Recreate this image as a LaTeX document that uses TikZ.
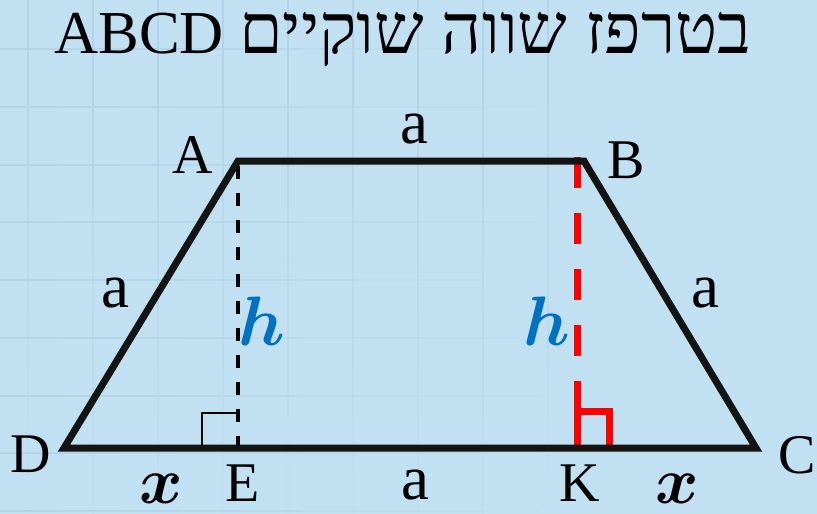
\documentclass[tikz,border=0pt]{standalone}
\usepackage{fontspec}
\usepackage{bm}
\usetikzlibrary{calc}
\setmainfont{Liberation Serif}
\newfontfamily\hebfont[Script=Hebrew]{Liberation Serif}
\TeXXeTstate=1
\definecolor{bgblue}{RGB}{193,224,242}
\definecolor{gridblue}{RGB}{178,211,232}
\definecolor{hblue}{RGB}{0,112,192}
\definecolor{mred}{RGB}{255,0,0}
\begin{document}
\begin{tikzpicture}[x=1pt, y=-1pt,
  every node/.style={inner sep=0pt},
  side/.style={line width=7pt, line join=miter, draw=black!92},
  vert/.style={font=\fontsize{56}{60}\selectfont},
  len/.style={font=\fontsize{63}{68}\selectfont},
  hgt/.style={text=hblue, scale=7},
  seg/.style={scale=6.6},
  gridline/.style={draw=gridblue, line width=1.6pt}]
  % background and faded grid
  \fill[bgblue] (0,0) rectangle (817,514);
  \useasboundingbox (0,0) rectangle (817,514);
  \foreach \i in {0,...,9} {
    \foreach \gx in {28,93,158,223,288,353,418,483,548}
      \draw[gridline, opacity=1-\i/10] (\gx,\i*52) -- (\gx,\i*52+52);
    \foreach \gy in {49,107,165,222,280,338,396,453,511}
      \draw[gridline, opacity=1-\i/9] (\i*60,\gy) -- (\i*60+60,\gy);
  }

  % title
  \node (title) at (403,53) [anchor=base]
    {\hebfont\fontsize{70}{74}\selectfont\beginR בטרפז שווה שוקיים\hspace{0.22em}\beginL\fontsize{61}{64}\selectfont ABCD\endL\endR};

  % vertices and feet of the heights
  \coordinate (A) at (238,161);
  \coordinate (B) at (584,161);
  \coordinate (C) at (756,448);
  \coordinate (D) at (64,448);
  \coordinate (E) at (238,448);
  \coordinate (K) at (577,448);
  \coordinate (Atop) at (238,166);
  \coordinate (Ktop) at (577,157);

  % heights
  \draw[line width=3.5pt, dash pattern=on 13pt off 14pt] (Atop) -- (E);
  \draw[mred, line width=7pt, dash pattern=on 31pt off 25pt] (Ktop) -- (K);

  % right angle marks
  \draw[line width=2.5pt] ($(E)+(-36,0)$) -- ++(0,-35) -- ++(36,0);
  \draw[mred, line width=7pt] (K) -- ++(0,-37) -- ++(32,0) -- ++(0,37);

  % trapezoid
  \draw[side] (D) -- (A) -- (B) -- (C) -- cycle;

  % vertex labels
  \node[vert] (lA) at (193,155) {A};
  \node[vert] (lB) at (626,160) {B};
  \node[vert] (lC) at (797,455) {C};
  \node[vert] (lD) at (31,454) {D};
  \node[vert] (lE) at (243,483) {E};
  \node[vert] (lK) at (580,483) {K};

  % side lengths
  \node[len] (ab) at (414,129) {a};
  \node[len] (ad) at (115,293) {a};
  \node[len] (bc) at (705,293) {a};
  \node[len] (ek) at (415,485) {a};

  % heights and projections
  \node[hgt] (hE) at (262,321) {$\bm{h}$};
  \node[hgt] (hK) at (547,321) {$\bm{h}$};
  \node[seg] (xD) at (161,489) {$\bm{x}$};
  \node[seg] (xC) at (677,489) {$\bm{x}$};
\end{tikzpicture}
\end{document}
